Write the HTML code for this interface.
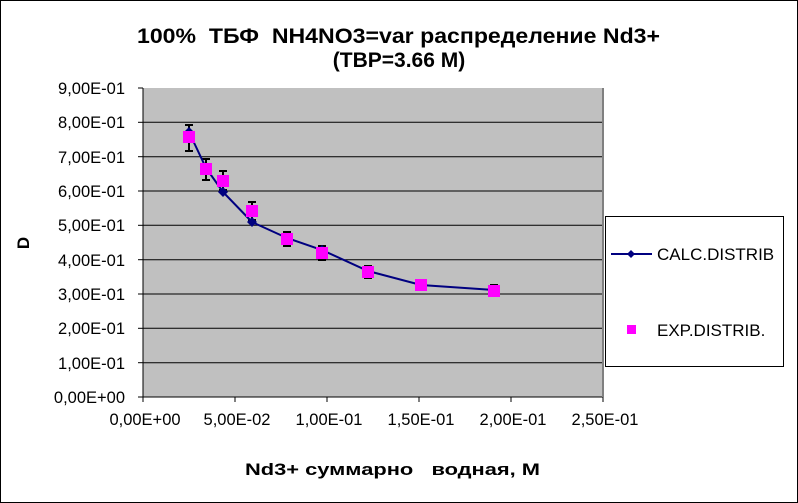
<!DOCTYPE html>
<html><head><meta charset="utf-8"><style>
html,body{margin:0;padding:0;background:#fff}
svg{display:block}
text{font-family:"Liberation Sans",Arial,sans-serif;white-space:pre}
</style></head><body>
<svg width="798" height="503" viewBox="0 0 798 503" xml:space="preserve">
<rect x="0.5" y="0.5" width="797" height="502" fill="#fff" stroke="#000"/>
<text x="137" y="43" textLength="523" lengthAdjust="spacingAndGlyphs" font-size="21" font-weight="bold">100%  ТБФ  NH4NO3=var распределение Nd3+</text>
<text x="399" y="67" text-anchor="middle" font-size="21" font-weight="bold">(TBP=3.66 M)</text>
<rect x="143" y="88" width="460" height="309" fill="#c0c0c0"/>
<g stroke="#000" stroke-width="1">
<line x1="143" y1="122.3" x2="603" y2="122.3"/><line x1="143" y1="156.7" x2="603" y2="156.7"/>
<line x1="143" y1="191" x2="603" y2="191"/><line x1="143" y1="225.3" x2="603" y2="225.3"/>
<line x1="143" y1="259.7" x2="603" y2="259.7"/><line x1="143" y1="294" x2="603" y2="294"/>
<line x1="143" y1="328.3" x2="603" y2="328.3"/><line x1="143" y1="362.7" x2="603" y2="362.7"/>
<line x1="143" y1="88" x2="143" y2="397"/><line x1="143" y1="397" x2="603" y2="397"/>
<line x1="603" y1="88" x2="603" y2="397" stroke="#808080" stroke-width="2"/>
<line x1="138" y1="88" x2="143" y2="88"/><line x1="138" y1="122.3" x2="143" y2="122.3"/><line x1="138" y1="156.7" x2="143" y2="156.7"/><line x1="138" y1="191" x2="143" y2="191"/><line x1="138" y1="225.3" x2="143" y2="225.3"/><line x1="138" y1="259.7" x2="143" y2="259.7"/><line x1="138" y1="294" x2="143" y2="294"/><line x1="138" y1="328.3" x2="143" y2="328.3"/><line x1="138" y1="362.7" x2="143" y2="362.7"/><line x1="138" y1="397" x2="143" y2="397"/>
<line x1="143" y1="397" x2="143" y2="402"/><line x1="235" y1="397" x2="235" y2="402"/><line x1="327" y1="397" x2="327" y2="402"/><line x1="419" y1="397" x2="419" y2="402"/><line x1="511" y1="397" x2="511" y2="402"/><line x1="603" y1="397" x2="603" y2="402"/>
</g>
<g font-size="16.5" text-anchor="end">
<text x="125" y="94">9,00E-01</text><text x="125" y="128">8,00E-01</text><text x="125" y="163">7,00E-01</text><text x="125" y="197">6,00E-01</text><text x="125" y="231">5,00E-01</text><text x="125" y="266">4,00E-01</text><text x="125" y="300">3,00E-01</text><text x="125" y="334">2,00E-01</text><text x="125" y="369">1,00E-01</text><text x="125" y="403">0,00E+00</text>
</g>
<g font-size="16.5" text-anchor="middle">
<text x="145" y="425">0,00E+00</text><text x="237" y="425">5,00E-02</text><text x="329" y="425">1,00E-01</text><text x="421" y="425">1,50E-01</text><text x="513" y="425">2,00E-01</text><text x="605" y="425">2,50E-01</text>
</g>
<text x="245" y="475" textLength="295" lengthAdjust="spacingAndGlyphs" font-size="17" font-weight="bold">Nd3+ суммарно   водная, M</text>
<text transform="translate(29,243) rotate(-90)" text-anchor="middle" font-size="17" font-weight="bold">D</text>
<g stroke="#000" stroke-width="2">
<path d="M189 125V151M185 125H193M185 151H193"/>
<path d="M206 159V180M202 159H210M202 180H210"/>
<path d="M223 171V190M219 171H227M219 190H227"/>
<path d="M252 202V220M248 202H256M248 220H256"/>
<path d="M287 232V246M283 232H291M283 246H291"/>
<path d="M322 246V260M318 246H326M318 260H326"/>
<path d="M368 266V278M364 266H372M364 278H372"/>
<path d="M421 281V290M417 281H425M417 290H425"/>
<path d="M494 285V296M490 285H498M490 296H498"/>
</g>
<polyline points="189,132 206,168 223,192 252,222 287,238 322,250 368,271 421,285 494,290" fill="none" stroke="#000080" stroke-width="2"/>
<g fill="#000080">
<path d="M189 127l5 5-5 5-5-5z"/><path d="M206 163l5 5-5 5-5-5z"/><path d="M223 187l5 5-5 5-5-5z"/><path d="M252 217l5 5-5 5-5-5z"/><path d="M287 233l5 5-5 5-5-5z"/><path d="M322 245l5 5-5 5-5-5z"/><path d="M368 266l5 5-5 5-5-5z"/><path d="M421 280l5 5-5 5-5-5z"/><path d="M494 285l5 5-5 5-5-5z"/>
</g>
<g fill="#ff00ff">
<rect x="183" y="131" width="12" height="12"/><rect x="200" y="163" width="12" height="12"/><rect x="217" y="175" width="12" height="12"/><rect x="246" y="205" width="12" height="12"/><rect x="281" y="233" width="12" height="12"/><rect x="316" y="247" width="12" height="12"/><rect x="362" y="266" width="12" height="12"/><rect x="415" y="279" width="12" height="12"/><rect x="488" y="285" width="12" height="12"/>
</g>
<rect x="605.5" y="216.5" width="178" height="150" fill="#fff" stroke="#000"/>
<line x1="611" y1="254" x2="652" y2="254" stroke="#000080" stroke-width="2"/>
<path d="M631 250l4 4-4 4-4-4z" fill="#000080"/>
<text x="657" y="260" font-size="17">CALC.DISTRIB</text>
<rect x="627" y="325" width="9" height="9" fill="#ff00ff"/>
<text x="657" y="336" font-size="17">EXP.DISTRIB.</text>
</svg>
</body></html>
